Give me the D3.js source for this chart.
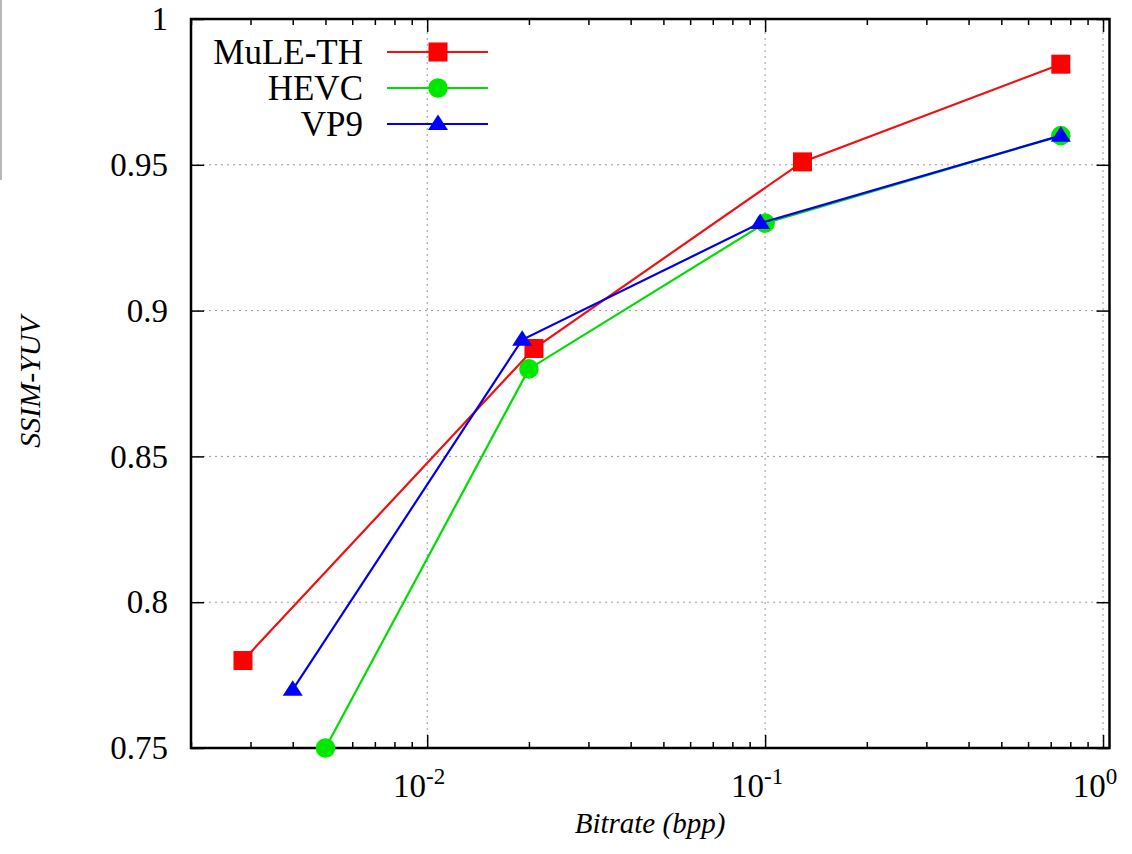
<!DOCTYPE html>
<html>
<head>
<meta charset="utf-8">
<script src="https://cdn.jsdelivr.net/npm/d3@7"></script>
<style>
    body { margin: 0; background: #fff; }
    svg text { font-family: "Liberation Serif", "DejaVu Serif", serif; fill: #000; }
</style>
</head>
<body>
<svg id="drawing_region"></svg>
<script>
// series data
const seriesNames = ["MuLE-TH", "HEVC", "VP9"];
const muleBitrate = [0.00285, 0.0207, 0.129, 0.75];
const muleSsim = [0.780, 0.887, 0.951, 0.9845];
const hevcBitrate = [0.005, 0.020, 0.100, 0.75];
const hevcSsim = [0.750, 0.880, 0.930, 0.960];
const vp9Bitrate = [0.0040, 0.0191, 0.0967, 0.75];
const vp9Ssim = [0.770, 0.890, 0.930, 0.960];

const xMajorTicks = [0.01, 0.1, 1];
const xTickExponents = ["-2", "-1", "0"];
const yTicks = [0.75, 0.8, 0.85, 0.9, 0.95, 1];
const yTickLabels = ["0.75", "0.8", "0.85", "0.9", "0.95", "1"];

const width = 1132, height = 854;
const margin = { top: 19, right: 22.5, bottom: 106, left: 191 };

const svg = d3.select('#drawing_region')
    .attr('width', width)
    .attr('height', height);

// thin grey edge at the top-left of the original scan
svg.append('rect')
    .attr('x', 0).attr('y', 0)
    .attr('width', 2).attr('height', 180)
    .attr('fill', '#b8b8b8');

const xscale = d3.scaleLog()
    .domain([0.002, 1.045])
    .range([margin.left, width - margin.right]);
const yscale = d3.scaleLinear()
    .domain([0.75, 1])
    .range([height - margin.bottom, margin.top]);

const x0 = xscale.range()[0], x1 = xscale.range()[1];
const y0 = yscale.range()[0], y1 = yscale.range()[1];

// minor ticks for the log axis
const xMinorTicks = [];
[0.001, 0.01, 0.1].forEach(dec => {
    for (let k = 2; k <= 9; k++) {
        const v = dec * k;
        if (v >= 0.002 && v < 1 && !xMajorTicks.includes(+v.toFixed(4))) xMinorTicks.push(v);
    }
});

// grid
const grid = svg.append('g')
    .attr('stroke', '#9a9a9a')
    .attr('stroke-width', 1)
    .attr('stroke-dasharray', '2,4');
grid.selectAll('line.vx').data(xMajorTicks)
    .join('line')
    .attr('x1', d => xscale(d)).attr('x2', d => xscale(d))
    .attr('y1', y0).attr('y2', y1);
grid.selectAll('line.hy').data(yTicks.filter(d => d > 0.75 && d < 1))
    .join('line')
    .attr('class', 'hy')
    .attr('x1', x0).attr('x2', x1)
    .attr('y1', d => yscale(d)).attr('y2', d => yscale(d));

// axes with inward ticks
function styleAxis(g) {
    g.select('.domain').remove();
    g.selectAll('line').attr('stroke', '#000').attr('stroke-width', 1.5);
}
svg.append('g').attr('transform', `translate(0, ${y0})`)
    .call(d3.axisBottom(xscale).tickValues(xMajorTicks).tickSize(-13).tickFormat(''))
    .call(styleAxis);
svg.append('g').attr('transform', `translate(0, ${y0})`)
    .call(d3.axisBottom(xscale).tickValues(xMinorTicks).tickSize(-6).tickFormat(''))
    .call(styleAxis);
svg.append('g').attr('transform', `translate(0, ${y1})`)
    .call(d3.axisTop(xscale).tickValues(xMajorTicks).tickSize(-13).tickFormat(''))
    .call(styleAxis);
svg.append('g').attr('transform', `translate(0, ${y1})`)
    .call(d3.axisTop(xscale).tickValues(xMinorTicks).tickSize(-6).tickFormat(''))
    .call(styleAxis);
svg.append('g').attr('transform', `translate(${x0}, 0)`)
    .call(d3.axisLeft(yscale).tickValues(yTicks).tickSize(-13).tickFormat(''))
    .call(styleAxis);
svg.append('g').attr('transform', `translate(${x1}, 0)`)
    .call(d3.axisRight(yscale).tickValues(yTicks).tickSize(-13).tickFormat(''))
    .call(styleAxis);

// frame
svg.append('rect')
    .attr('x', x0).attr('y', y1)
    .attr('width', x1 - x0).attr('height', y0 - y1)
    .attr('fill', 'none')
    .attr('stroke', '#000')
    .attr('stroke-width', 2.5);

// tick labels
svg.append('g').selectAll('text').data(yTicks)
    .join('text')
    .attr('x', x0 - 23)
    .attr('y', d => yscale(d))
    .attr('dy', '0.34em')
    .attr('text-anchor', 'end')
    .attr('font-size', 33)
    .text((d, i) => yTickLabels[i]);

const xl = svg.append('g').selectAll('text').data(xMajorTicks)
    .join('text')
    .attr('x', d => xscale(d) - 8)
    .attr('y', y0 + 49)
    .attr('text-anchor', 'middle')
    .attr('font-size', 33);
xl.append('tspan').text('10');
xl.append('tspan')
    .attr('font-size', 23)
    .attr('dy', -13)
    .text((d, i) => xTickExponents[i]);

// axis titles
svg.append('text')
    .attr('x', 650).attr('y', 833)
    .attr('text-anchor', 'middle')
    .attr('font-size', 29)
    .attr('font-style', 'italic')
    .text('Bitrate (bpp)');
svg.append('text')
    .attr('transform', 'translate(40, 382) rotate(-90)')
    .attr('text-anchor', 'middle')
    .attr('font-size', 30)
    .attr('font-style', 'italic')
    .text('SSIM-YUV');

// series
const series = [
    { name: seriesNames[0], x: muleBitrate, y: muleSsim, color: '#ff0000', line: '#f01010', marker: 'square' },
    { name: seriesNames[1], x: hevcBitrate, y: hevcSsim, color: '#00e800', line: '#00dd00', marker: 'circle' },
    { name: seriesNames[2], x: vp9Bitrate, y: vp9Ssim, color: '#0000ff', line: '#0000ee', marker: 'triangle' }
];

function drawMarker(g, type, color) {
    if (type === 'square') {
        g.append('rect').attr('x', -9.5).attr('y', -9.5)
            .attr('width', 19).attr('height', 19).attr('fill', color);
    } else if (type === 'circle') {
        g.append('circle').attr('r', 9.8).attr('fill', color);
    } else {
        g.append('path').attr('d', 'M0,-9.5 L10,6 L-10,6 Z').attr('fill', color);
    }
}

const line = d3.line().x(d => xscale(d[0])).y(d => yscale(d[1]));

series.forEach(s => {
    const pts = s.x.map((v, i) => [v, s.y[i]]);
    const g = svg.append('g');
    g.append('path')
        .attr('d', line(pts))
        .attr('fill', 'none')
        .attr('stroke', s.line)
        .attr('stroke-width', 2.2);
    g.selectAll('g.pt').data(pts)
        .join('g')
        .attr('transform', d => `translate(${xscale(d[0])}, ${yscale(d[1])})`)
        .each(function () { drawMarker(d3.select(this), s.marker, s.color); });
});

// legend
const legend = svg.append('g');
series.forEach((s, i) => {
    const cy = 52 + i * 36;
    legend.append('text')
        .attr('x', 363).attr('y', cy)
        .attr('dy', '0.34em')
        .attr('text-anchor', 'end')
        .attr('font-size', 35)
        .text(s.name);
    legend.append('line')
        .attr('x1', 387).attr('x2', 488)
        .attr('y1', cy).attr('y2', cy)
        .attr('stroke', s.line)
        .attr('stroke-width', 2.2);
    const m = legend.append('g').attr('transform', `translate(438, ${cy})`);
    drawMarker(m, s.marker, s.color);
});
</script>
</body>
</html>
